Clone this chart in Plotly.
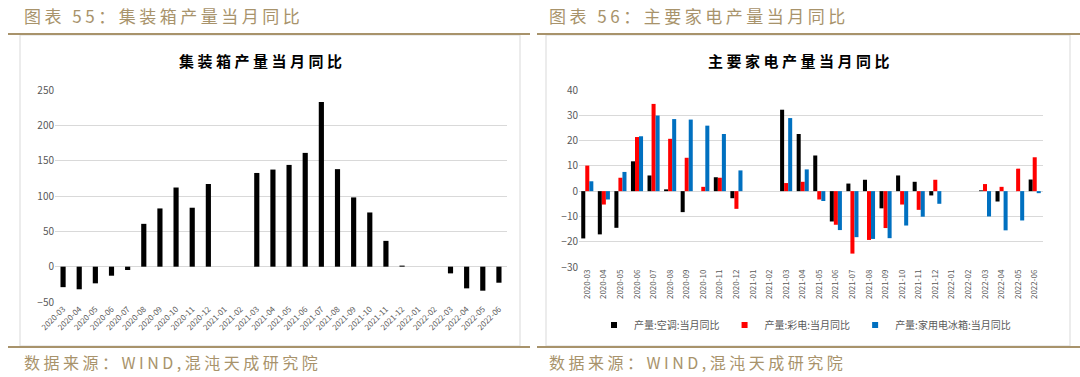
import plotly.graph_objects as go

W, H = 1080, 377

months = ["2020-03", "2020-04", "2020-05", "2020-06", "2020-07", "2020-08", "2020-09",
          "2020-10", "2020-11", "2020-12", "2021-01", "2021-02", "2021-03", "2021-04",
          "2021-05", "2021-06", "2021-07", "2021-08", "2021-09", "2021-10", "2021-11",
          "2021-12", "2022-01", "2022-02", "2022-03", "2022-04", "2022-05", "2022-06"]

container = [-29, -32, -23.6, -12.8, -4.7, 60.6, 82.4, 112, 83.4, 117, None, None,
             132.6, 137.4, 144, 161, 233, 138, 98, 76.7, 36.5, 1.5, None, None,
             -9.5, -30.7, -34, -22.7]

aircon = [-18.7, -17.1, -14.5, 11.8, 6.2, 0.7, -8.3, None, 5.5, -2.8, None, None,
          32.2, 22.6, 14.1, -12.0, 3.0, 4.5, -6.8, 6.2, 3.7, -1.7, None, None,
          0.3, -4.1, None, 4.6]
tv = [10.1, -5.3, 5.3, 21.4, 34.5, 20.7, 13.2, 1.7, 5.3, -7.0, None, None,
      3.2, 3.7, -3.3, -13.3, -24.7, -19.3, -14.6, -5.3, -7.4, 4.5, None, None,
      2.8, 1.7, 8.9, 13.4]
fridge = [3.9, -3.3, 7.6, 21.7, 29.9, 28.5, 28.3, 25.9, 22.6, 8.2, None, None,
          28.9, 8.6, -3.9, -15.4, -18.2, -18.9, -18.6, -13.6, -10.1, -5.0, None, None,
          -10.0, -15.5, -11.6, -0.8]

series_names = ["产量:空调:当月同比", "产量:彩电:当月同比", "产量:家用电冰箱:当月同比"]
series_colors = ["#000000", "#ff0000", "#0070c0"]

left_ticks = [-50, 0, 50, 100, 150, 200, 250]
right_ticks = [-30, -20, -10, 0, 10, 20, 30, 40]

GOLD = "#a8936b"
GRID = "#d9d9d9"
TICK = "#595959"
FONT = "Noto Sans CJK SC"


def px(x):
    return x / W


def py(y):
    return 1 - y / H


fig = go.Figure()

fig.add_trace(go.Bar(x=months, y=container, marker_color="#000000", width=0.32,
                     offset=-0.16, xaxis="x", yaxis="y", showlegend=False,
                     name="集装箱产量当月同比"))

for vals, nm, col in zip([aircon, tv, fridge], series_names, series_colors):
    fig.add_trace(go.Bar(x=months, y=vals, marker_color=col, xaxis="x2", yaxis="y2",
                         name=nm, showlegend=False))
# legend entries with small square keys
for nm, col in zip(series_names, series_colors):
    fig.add_trace(go.Scatter(x=[None], y=[None], mode="markers", name=nm,
                             marker=dict(symbol="square", size=6, color=col),
                             xaxis="x2", yaxis="y2"))

tickfont = dict(family=FONT, size=10, color=TICK)
xtickfont = dict(family=FONT, size=8, color=TICK)

fig.update_layout(
    template="none",
    width=W, height=H,
    margin=dict(l=0, r=0, t=0, b=0, pad=0, autoexpand=False),
    paper_bgcolor="white", plot_bgcolor="white",
    barmode="group", bargap=0.27, bargroupgap=0,
    font=dict(family=FONT),
    xaxis=dict(domain=[px(55), px(507)], anchor="y", type="category", automargin=False,
               tickangle=-45, tickfont=xtickfont, showgrid=False, ticks="",
               showline=False, zeroline=False),
    yaxis=dict(domain=[py(302), py(90)], anchor="x", range=[-50, 250], automargin=False,
               tickvals=left_ticks, tickfont=tickfont, gridcolor=GRID, gridwidth=1,
               zeroline=True, zerolinecolor=GRID, zerolinewidth=1, showline=False,
               ticks=""),
    xaxis2=dict(domain=[px(579), px(1043)], anchor="y2", type="category", automargin=False,
                tickangle=-90, tickfont=xtickfont, showgrid=False, ticks="",
                showline=False, zeroline=False, categoryorder="array", categoryarray=months),
    yaxis2=dict(domain=[py(267), py(90)], anchor="x2", range=[-30, 40], automargin=False,
                tickvals=right_ticks, tickfont=tickfont, gridcolor=GRID, gridwidth=1,
                zeroline=True, zerolinecolor=GRID, zerolinewidth=1, showline=False,
                ticks=""),
    legend=dict(orientation="h", x=px(805), xanchor="center", y=py(325), yanchor="middle",
                font=dict(family=FONT, size=10, color=TICK), traceorder="normal",
                bgcolor="rgba(0,0,0,0)", itemwidth=30, tracegroupgap=0),
)

shapes = []
shapes.append(dict(type="rect", xref="paper", yref="paper", x0=px(20), x1=px(520),
                   y0=py(346), y1=py(35), line=dict(color=GRID, width=1)))
shapes.append(dict(type="rect", xref="paper", yref="paper", x0=px(546), x1=px(1070),
                   y0=py(346), y1=py(35), line=dict(color=GRID, width=1)))
for x0, x1 in [(8, 530), (537, 1080)]:
    shapes.append(dict(type="line", xref="paper", yref="paper", x0=px(x0), x1=px(x1),
                       y0=py(34), y1=py(34), line=dict(color=GOLD, width=2)))
    shapes.append(dict(type="line", xref="paper", yref="paper", x0=px(x0), x1=px(x1),
                       y0=py(347), y1=py(347), line=dict(color=GOLD, width=2)))
fig.update_layout(shapes=shapes)


def spaced(t, ls):
    return f'<span style="letter-spacing:{ls}px">{t}</span>'


ann = []
hdr = dict(family=FONT, size=17, color=GOLD)
ann.append(dict(text=spaced("图表 55：集装箱产量当月同比", 3.5), x=px(22), y=py(16), xref="paper",
                yref="paper", xanchor="left", yanchor="middle", showarrow=False, font=hdr))
ann.append(dict(text=spaced("图表 56：主要家电产量当月同比", 3.5), x=px(547), y=py(16), xref="paper",
                yref="paper", xanchor="left", yanchor="middle", showarrow=False, font=hdr))
src = dict(family=FONT, size=16, color=GOLD)
ann.append(dict(text=spaced("数据来源：WIND,混沌天成研究院", 3.5), x=px(22), y=py(362), xref="paper",
                yref="paper", xanchor="left", yanchor="middle", showarrow=False, font=src))
ann.append(dict(text=spaced("数据来源：WIND,混沌天成研究院", 3.5), x=px(547), y=py(362), xref="paper",
                yref="paper", xanchor="left", yanchor="middle", showarrow=False, font=src))
ttl = dict(family=FONT, size=15, color="#000000")
ann.append(dict(text=spaced("<b>集装箱产量当月同比</b>", 3.5), x=px(262), y=py(60), xref="paper",
                yref="paper", xanchor="center", yanchor="middle", showarrow=False, font=ttl))
ann.append(dict(text=spaced("<b>主要家电产量当月同比</b>", 3.5), x=px(800), y=py(60), xref="paper",
                yref="paper", xanchor="center", yanchor="middle", showarrow=False, font=ttl))
fig.update_layout(annotations=ann)

fig.write_html("out.html", config={"displayModeBar": False, "staticPlot": True},
               post_script="document.body.style.margin='0';document.body.style.overflow='hidden';")
